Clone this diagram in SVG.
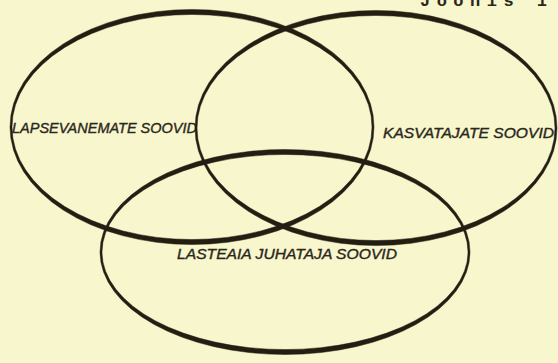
<svg xmlns="http://www.w3.org/2000/svg" width="558" height="363" viewBox="0 0 558 363">
  <style>
    .ring { fill: #231d12; fill-rule: evenodd; stroke: #231d12; stroke-width: 0.5; }
    .label { font-family: "Liberation Sans", Arial, sans-serif; font-style: italic; font-size: 14px; fill: #2a271c; stroke: #2a271c; stroke-width: 0.35; }
    .title { font-family: "Liberation Mono", "Courier New", monospace; font-weight: bold; font-size: 17px; fill: #2a271c; }
  </style>
  <rect width="558" height="363" fill="#f8f6cd"/>
  <text class="title" x="420" y="6" textLength="127" lengthAdjust="spacing">Joonis 1</text>
  <g id="lapsevanemad">
    <path class="ring" d="M10,127 a182,117.5 0 1,0 364,0 a182,117.5 0 1,0 -364,0 Z M12,127 a180,112.5 0 1,0 360,0 a180,112.5 0 1,0 -360,0 Z"/>
    <text class="label" x="12" y="132.5" textLength="185" lengthAdjust="spacingAndGlyphs">LAPSEVANEMATE SOOVID</text>
  </g>
  <g id="kasvatajad">
    <path class="ring" d="M195,128 a181,117.5 0 1,0 362,0 a181,117.5 0 1,0 -362,0 Z M197,128 a179,112.5 0 1,0 358,0 a179,112.5 0 1,0 -358,0 Z"/>
    <text class="label" x="383" y="137.5" textLength="171" lengthAdjust="spacingAndGlyphs">KASVATAJATE SOOVID</text>
  </g>
  <g id="juhataja">
    <path class="ring" d="M100,252 a185,102.5 0 1,0 370,0 a185,102.5 0 1,0 -370,0 Z M102,252 a183,97.5 0 1,0 366,0 a183,97.5 0 1,0 -366,0 Z"/>
    <text class="label" x="177" y="258.5" style="font-size:14.5px" textLength="220" lengthAdjust="spacingAndGlyphs">LASTEAIA JUHATAJA SOOVID</text>
  </g>
</svg>
